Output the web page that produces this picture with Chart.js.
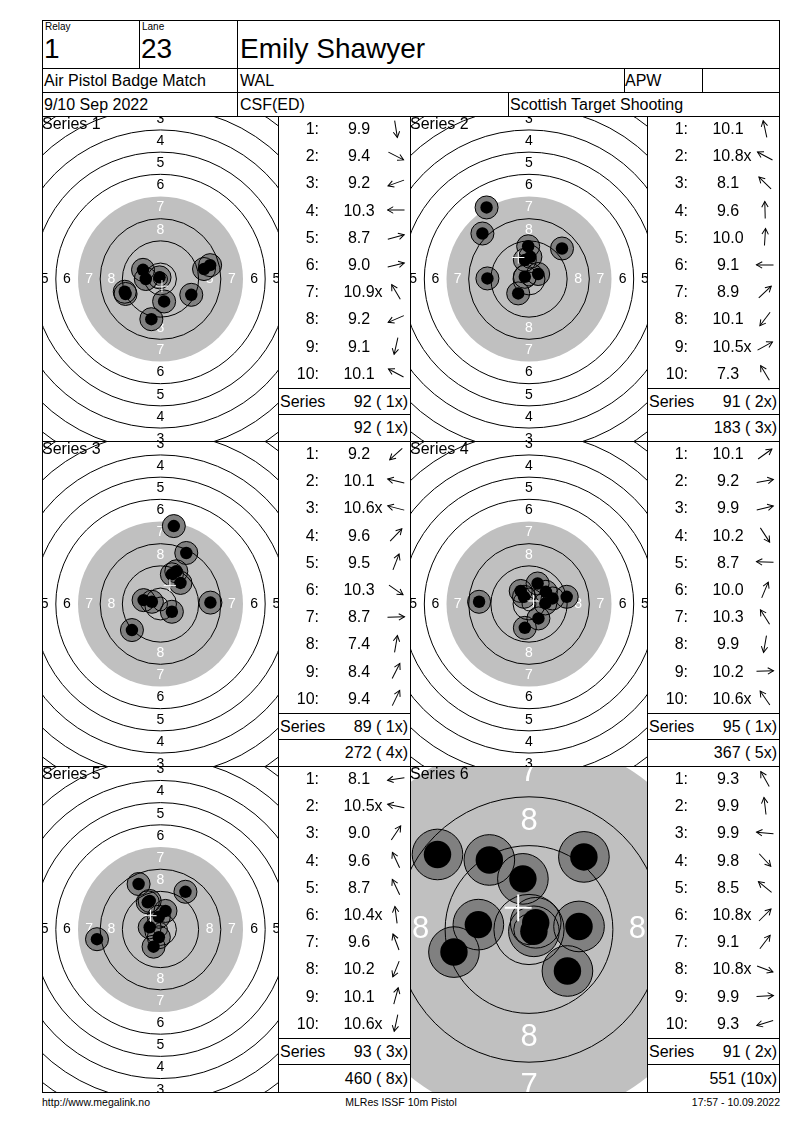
<!DOCTYPE html>
<html><head><meta charset="utf-8">
<script src="https://cdn.jsdelivr.net/npm/chart.js@4.4.1/dist/chart.umd.min.js"></script>
<style>
html,body{margin:0;padding:0;background:#fff;}
body{font-family:"Liberation Sans",Arial,sans-serif;color:#000;}
#page{position:relative;width:800px;height:1130px;overflow:hidden;}
.t{position:absolute;white-space:pre;}
.hl{position:absolute;height:1px;background:#000;}
.vl{position:absolute;width:1px;background:#000;}
canvas{position:absolute;}
svg{position:absolute;overflow:visible;}
.xs{display:inline-block;width:0;overflow:visible;}
</style></head><body><div id="page"></div>
<script>
// ---------- header / footer texts ----------
const relayLabel = 'Relay', laneLabel = 'Lane';
const relayValue = '1', laneValue = '23';
const shooterName = 'Emily Shawyer';
const matchName = 'Air Pistol Badge Match', clubName = 'WAL', className = 'APW';
const matchDate = '9/10 Sep 2022', rangeName = 'CSF(ED)', organiser = 'Scottish Target Shooting';
const footerLeft = 'http://www.megalink.no', footerMid = 'MLRes ISSF 10m Pistol', footerRight = '17:57 - 10.09.2022';

// ---------- series data ----------
const seriesNames = ['Series 1', 'Series 2', 'Series 3', 'Series 4', 'Series 5', 'Series 6'];

const s1Scores = [9.9, 9.4, 9.2, 10.3, 8.7, 9.0, 10.9, 9.2, 9.1, 10.1];
const s1Inner  = [0, 0, 0, 0, 0, 0, 1, 0, 0, 0];
const s1X = [1.3, 11.1, -12.9, -5.3, 17.9, 15.7, -0.35, -12.6, -3.3, -6.3];   // mm, right +
const s1Y = [-8.1, -5.7, -4.6, 0.0, 5.0, 3.6, 0.6, -5.4, -14.5, 3.3];         // mm, up +

const s2Scores = [10.1, 10.8, 8.1, 9.6, 10.0, 9.1, 8.9, 10.1, 10.5, 7.3];
const s2Inner  = [0, 1, 0, 0, 0, 0, 0, 0, 1, 0];
const s2X = [-1.5, -1.5, -16.8, -0.3, 0.5, -15.0, 11.9, -3.9, 3.3, -15.3];
const s2Y = [6.9, 0.8, 16.4, 11.8, 8.0, 0.2, 11.0, -5.2, 1.8, 25.8];

const s3Scores = [9.2, 10.1, 10.6, 9.6, 9.5, 10.3, 8.7, 7.4, 8.4, 9.4];
const s3Inner  = [0, 0, 1, 0, 0, 0, 0, 0, 0, 0];
const s3X = [-10.3, -6.1, -3.1, 7.2, 4.1, 4.1, 18.0, 4.8, 9.3, 5.7];
const s3Y = [-9.4, 1.4, 0.8, 7.6, 10.7, -2.8, 0.5, 28.1, 18.4, 11.8];

const s4Scores = [10.1, 9.2, 9.9, 10.2, 8.7, 10.0, 10.3, 9.9, 10.2, 10.6];
const s4Inner  = [0, 0, 0, 0, 0, 0, 0, 0, 0, 1];
const s4X = [6.1, 13.6, 8.5, 3.4, -18.0, 3.1, -3.0, -1.5, 5.9, -1.8];
const s4Y = [4.4, 2.6, 2.0, -5.2, 0.8, 7.4, 4.7, -8.6, 0.2, 2.6];

const s5Scores = [8.1, 10.5, 9.0, 9.6, 8.7, 10.4, 9.6, 10.2, 10.1, 10.6];
const s5Inner  = [0, 1, 0, 0, 0, 1, 0, 0, 0, 1];
const s5X = [-22.9, -3.9, 9.0, -4.6, -7.9, -0.6, -3.9, -2.5, 1.8, -0.6];
const s5Y = [-3.5, 0.8, 13.6, 9.8, 16.4, 4.6, 10.3, -6.2, 6.7, -2.8];

const s6Scores = [9.3, 9.9, 9.9, 9.8, 8.5, 10.8, 9.1, 10.8, 9.9, 9.3];
const s6Inner  = [0, 0, 0, 0, 0, 1, 0, 1, 0, 0];
const s6X = [-6.5, -1.0, -8.3, 6.3, -15.0, 1.1, 9.0, 0.8, 8.2, -12.3];
const s6Y = [11.4, 8.3, 0.8, -6.8, 12.3, 1.1, 11.9, -0.3, 0.5, -3.7];

const ringNumbers  = [1, 2, 3, 4, 5, 6, 7, 8, 9, 10];
const ringLabels   = [1, 2, 3, 4, 5, 6, 7, 8];
const targetZoom   = [1, 1, 1, 1, 1, 2.2];
const markGrow     = [0, 0, 0, 0, 0, 1.25];   // extra mm on the grey aiming mark as drawn in zoomed view

// ---------- target geometry (ISSF 10m air pistol, mm) ----------
const BASE_PX_PER_MM = 2.773;
const ringRadius = n => 5.75 + (10 - n) * 8;
const INNER_TEN = 2.5, SHOT_CAL = 2.25, SHOT_MARK = 4.15;

const allSeries = [
  {s: s1Scores, inn: s1Inner, x: s1X, y: s1Y},
  {s: s2Scores, inn: s2Inner, x: s2X, y: s2Y},
  {s: s3Scores, inn: s3Inner, x: s3X, y: s3Y},
  {s: s4Scores, inn: s4Inner, x: s4X, y: s4Y},
  {s: s5Scores, inn: s5Inner, x: s5X, y: s5Y},
  {s: s6Scores, inn: s6Inner, x: s6X, y: s6Y}
];

const page = document.getElementById('page');
function add(html){ page.insertAdjacentHTML('beforeend', html); }
function hl(x, y, w){ add(`<div class="hl" style="left:${x}px;top:${y}px;width:${w}px"></div>`); }
function vl(x, y, h){ add(`<div class="vl" style="left:${x}px;top:${y}px;height:${h}px"></div>`); }
function txt(str, style){ add(`<div class="t" style="${style}">${str}</div>`); }

function geom(chart){
  const {scales: {x, y}} = chart;
  const cx = x.getPixelForValue(0), cy = y.getPixelForValue(0);
  return {cx, cy, k: x.getPixelForValue(1) - cx};
}
function clipArea(chart){
  const {ctx, chartArea: a} = chart;
  ctx.beginPath(); ctx.rect(a.left, a.top, a.right - a.left, a.bottom - a.top); ctx.clip();
}

// ---------- target plugin ----------
const targetPlugin = {
  id: 'target',
  beforeDatasetsDraw(chart, args, opts){
    const {ctx} = chart;
    const {cx, cy, k} = geom(chart);
    ctx.save();
    clipArea(chart);
    ctx.fillStyle = '#c0c0c0';
    ctx.beginPath(); ctx.arc(cx, cy, (ringRadius(7) + (opts.grow || 0)) * k, 0, Math.PI * 2); ctx.fill();
    // ring numbers (under the shots)
    ctx.font = `${Math.round(5.05 * k)}px "Liberation Sans", Arial, sans-serif`;
    ctx.textAlign = 'center'; ctx.textBaseline = 'middle';
    ringLabels.forEach(n => {
      const d = (ringRadius(n) - 4) * k;
      ctx.fillStyle = n >= 7 ? '#fff' : '#000';
      [[0, -d], [0, d], [-d, 0], [d, 0]].forEach(([dx, dy]) => ctx.fillText(String(n), cx + dx, cy + dy));
    });
    ctx.restore();
  },
  afterDatasetsDraw(chart){
    const {ctx, scales: {x, y}} = chart;
    const {cx, cy, k} = geom(chart);
    ctx.save();
    clipArea(chart);
    ctx.strokeStyle = '#000'; ctx.lineWidth = 1;
    ringNumbers.forEach(n => {
      if (n === 7) return;
      ctx.beginPath(); ctx.arc(cx, cy, ringRadius(n) * k, 0, Math.PI * 2); ctx.stroke();
    });
    ctx.beginPath(); ctx.arc(cx, cy, INNER_TEN * k, 0, Math.PI * 2); ctx.stroke();
    // mean point of impact
    const pts = chart.data.datasets[0].data;
    const mx = pts.reduce((s, p) => s + p.x, 0) / pts.length;
    const my = pts.reduce((s, p) => s + p.y, 0) / pts.length;
    const px = x.getPixelForValue(mx), py = y.getPixelForValue(my);
    const arm = 2.2 * k;
    ctx.strokeStyle = '#fff'; ctx.lineWidth = Math.max(1, Math.round(0.33 * k));
    ctx.beginPath();
    ctx.moveTo(px - arm, py); ctx.lineTo(px + arm, py);
    ctx.moveTo(px, py - arm); ctx.lineTo(px, py + arm);
    ctx.stroke();
    ctx.restore();
  }
};

function makeTarget(left, top, w, h, ser, zoom, grow){
  const cv = document.createElement('canvas');
  cv.width = w; cv.height = h;
  cv.style.left = left + 'px'; cv.style.top = top + 'px';
  cv.style.width = w + 'px'; cv.style.height = h + 'px';
  page.appendChild(cv);
  const k = BASE_PX_PER_MM * zoom;
  const hw = w / 2 / k, hh = h / 2 / k;
  const pts = ser.x.map((v, i) => ({x: v, y: ser.y[i]}));
  new Chart(cv, {
    type: 'scatter',
    data: {datasets: [
      {data: pts, order: 3, pointRadius: SHOT_MARK * k, pointHoverRadius: SHOT_MARK * k, backgroundColor: '#808080', borderWidth: 0},
      {data: pts, order: 2, pointRadius: SHOT_MARK * k, pointHoverRadius: SHOT_MARK * k, backgroundColor: 'rgba(0,0,0,0)', borderColor: '#000', borderWidth: 1},
      {data: pts, order: 1, pointRadius: SHOT_CAL * k, pointHoverRadius: SHOT_CAL * k, backgroundColor: '#000', borderWidth: 0}
    ]},
    options: {
      responsive: false, animation: false, events: [], devicePixelRatio: 1,
      layout: {padding: 0, autoPadding: false},
      plugins: {legend: {display: false}, tooltip: {enabled: false}, target: {grow}},
      scales: {
        x: {type: 'linear', min: -hw, max: hw, display: false, bounds: 'data'},
        y: {type: 'linear', min: -hh, max: hh, display: false, bounds: 'data'}
      }
    },
    plugins: [targetPlugin]
  });
}

function arrow(cx, cy, dx, dy){
  const ang = Math.atan2(-dy, dx) * 180 / Math.PI;
  add(`<svg width="22" height="22" viewBox="-11 -11 22 22" style="left:${cx - 11}px;top:${cy - 11}px"><g transform="rotate(${ang.toFixed(1)})" stroke="#000" stroke-width="1" fill="none"><line x1="-8.5" y1="0" x2="8.5" y2="0"/><polyline points="2.8,-3.2 8.5,0 2.8,3.2"/></g></svg>`);
}

// ---------- frame lines ----------
const L = 42, R = 779;
const rowLines = [116, 441, 766, 1092];
hl(L, 20, R - L + 1); hl(L, 68, R - L + 1); hl(L, 92, R - L + 1);
rowLines.forEach(y => hl(L, y, R - L + 1));
vl(L, 20, 1092 - 20 + 1); vl(R, 20, 1092 - 20 + 1);
vl(139, 20, 48); vl(237, 20, 96);
vl(624, 68, 24); vl(702, 68, 24); vl(508, 92, 24);
[278, 410, 647].forEach(x => vl(x, 116, 1092 - 116));

// ---------- header texts ----------
txt(relayLabel, 'left:45px;top:21px;font-size:10px;line-height:12px');
txt(laneLabel, 'left:142px;top:21px;font-size:10px;line-height:12px');
txt(relayValue, 'left:44px;top:33px;font-size:28px;line-height:32px');
txt(laneValue, 'left:141px;top:33px;font-size:28px;line-height:32px');
txt(shooterName, 'left:240px;top:33px;font-size:28px;line-height:32px');
txt(matchName, 'left:44px;top:69px;font-size:16px;line-height:23px');
txt(clubName, 'left:240px;top:69px;font-size:16px;line-height:23px');
txt(className, 'left:625px;top:69px;font-size:16px;line-height:23px');
txt(matchDate, 'left:44px;top:93px;font-size:16px;line-height:23px');
txt(rangeName, 'left:240px;top:93px;font-size:16px;line-height:23px');
txt(organiser, 'left:510px;top:93px;font-size:16px;line-height:23px');

// ---------- series panels ----------
let cumTotal = 0, cumInner = 0;
allSeries.forEach((ser, i) => {
  const col = i % 2, row = Math.floor(i / 2);
  const lineY = rowLines[row];
  const ph = rowLines[row + 1] - lineY - 1;
  const tLeft = col ? 411 : 43, tW = col ? 236 : 235;
  const tab = col ? 647 : 278;
  makeTarget(tLeft, lineY + 1, tW, ph, ser, targetZoom[i], markGrow[i]);
  txt(seriesNames[i], `left:${tLeft - 1}px;top:${lineY - 1.5}px;font-size:16px;line-height:18px`);

  let tot = 0, inn = 0;
  ser.s.forEach((sc, j) => {
    const top = lineY - 1 + 27.2 * j;
    txt(`${j + 1}:`, `left:${tab}px;width:41px;text-align:right;top:${top}px;font-size:16px;line-height:27.2px`);
    const xs = ser.inn[j] ? '<span class="xs">x</span>' : '';
    txt(`${sc.toFixed(1)}${xs}`, `left:${tab + 61}px;width:40px;text-align:center;top:${top}px;font-size:16px;line-height:27.2px`);
    arrow(tab + 117.5, top + 13.6, ser.x[j], ser.y[j]);
    tot += Math.floor(sc + 1e-9); inn += ser.inn[j];
  });
  cumTotal += tot; cumInner += inn;
  hl(tab, lineY + 272, 132);
  hl(tab, lineY + 298, 132);
  const fmt = (t, n) => `${t} (${String(n).padStart(2, ' ')}x)`;
  txt('Series', `left:${tab + 2}px;top:${lineY + 273}px;font-size:16px;line-height:25px`);
  txt(fmt(tot, inn), `left:${tab}px;width:130px;text-align:right;top:${lineY + 273}px;font-size:16px;line-height:25px`);
  const bottom = rowLines[row + 1];
  txt(fmt(cumTotal, cumInner), `left:${tab}px;width:130px;text-align:right;top:${lineY + 299}px;font-size:16px;line-height:${bottom - lineY - 299}px`);
});

// ---------- footer ----------
txt(footerLeft, 'left:42px;top:1096px;font-size:10.5px;line-height:13px');
txt(footerMid, 'left:301px;width:200px;text-align:center;top:1096px;font-size:10.5px;line-height:13px');
txt(footerRight, 'left:580px;width:200px;text-align:right;top:1096px;font-size:10.5px;line-height:13px');
</script></body></html>
